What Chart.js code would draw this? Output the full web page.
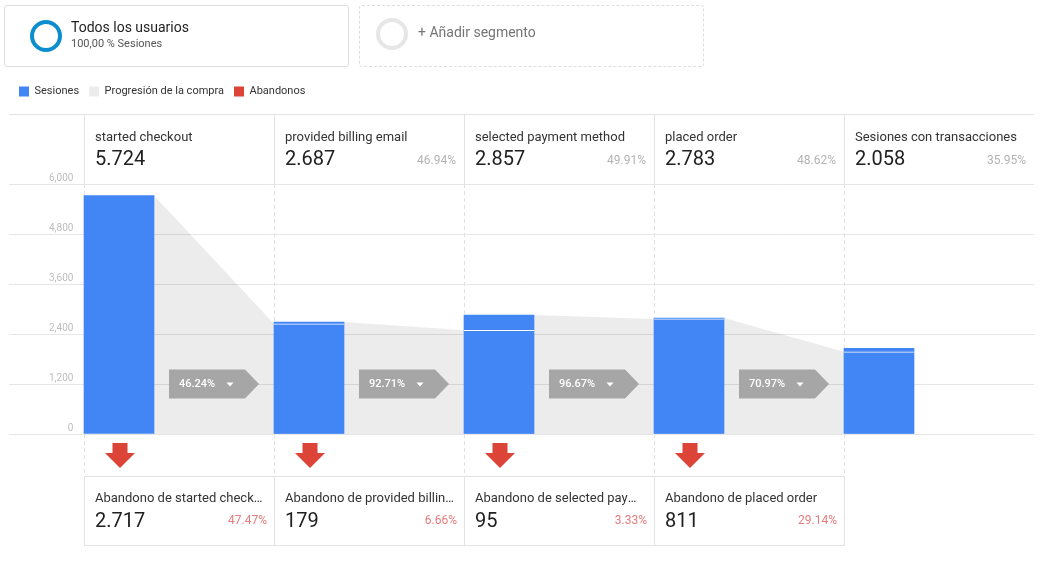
<!DOCTYPE html>
<html lang="es">
<head>
<meta charset="utf-8">
<title>Embudo de pago</title>
<script src="https://cdn.jsdelivr.net/npm/chart.js@4.4.0/dist/chart.umd.min.js"></script>
<style>
  html, body { margin: 0; padding: 0; background: #fff; }
  body { width: 1046px; height: 561px; position: relative; overflow: hidden; font-family: Roboto, "Noto Sans", Arial, sans-serif; color: #333; }
  #grafico { position: absolute; left: 0; top: 0; }
  .segmento { position: absolute; top: 5px; height: 62px; box-sizing: border-box; border: 1px solid #dedede; border-radius: 3px; }
  .segmento.uno { left: 4px; width: 345px; }
  .segmento.nuevo { left: 359px; width: 345px; border-style: dashed; }
  .anillo { position: absolute; width: 32px; height: 32px; box-sizing: border-box; border: 4px solid #0b8dce; border-radius: 50%; }
  .uno .anillo { left: 25px; top: 14px; }
  .nuevo .anillo { left: 16px; top: 12px; border-color: #e6e6e6; border-width: 4.5px; }
  .seg-titulo { position: absolute; left: 66px; top: 13px; font-size: 14px; line-height: 16px; color: #222; }
  .seg-sub { position: absolute; left: 66px; top: 31px; font-size: 11px; line-height: 13px; color: #555; }
  .nuevo .seg-titulo { left: 58px; top: 18px; color: #757575; }
  #borde-superior { position: absolute; left: 9px; top: 114px; width: 1025px; border-top: 1px solid #e3e3e3; }
  .paso { position: absolute; top: 114px; width: 190px; height: 70px; box-sizing: border-box; border-left: 1px solid #e3e3e3; }
  .nombre { position: absolute; left: 10px; top: 15px; font-size: 13px; line-height: 16px; color: #333; white-space: nowrap; }
  .cifra { position: absolute; left: 10px; top: 32px; font-size: 20px; line-height: 24px; color: #212121; }
  .pct { position: absolute; right: 8px; top: 39px; font-size: 12px; line-height: 14px; color: #b3b3b3; }
  .abandono { position: absolute; top: 476px; width: 191px; height: 70px; box-sizing: border-box; border: 1px solid #e3e3e3; }
  .abandono .nombre { top: 13px; width: 171px; overflow: hidden; text-overflow: ellipsis; }
  .abandono .cifra { top: 31px; }
  .abandono .pct { top: 36px; right: 7px; color: #e57c7c; }
</style>
</head>
<body>
<canvas id="grafico" width="1046" height="561"></canvas>

<div class="segmento uno">
  <div class="anillo"></div>
  <div class="seg-titulo">Todos los usuarios</div>
  <div class="seg-sub">100,00 % Sesiones</div>
</div>
<div class="segmento nuevo">
  <div class="anillo"></div>
  <div class="seg-titulo">+ Añadir segmento</div>
</div>
<div id="borde-superior"></div>
<div id="cabecera"></div>
<div id="abandonos"></div>

<script>
// Pasos del embudo
const pasos = ["started checkout", "provided billing email", "selected payment method", "placed order", "Sesiones con transacciones"];
const sesiones = [5724, 2687, 2857, 2783, 2058];
const pctDelTotal = [null, 46.94, 49.91, 48.62, 35.95];

// Sesiones que pasan al siguiente paso (linea blanca de cada barra)
const continuan = [2647, 2491, 2762, 1975];
const progresion = [46.24, 92.71, 96.67, 70.97];

// Abandonos por paso
const nombresAbandono = ["Abandono de started checkout", "Abandono de provided billing email", "Abandono de selected payment method", "Abandono de placed order"];
const abandonos = [2717, 179, 95, 811];
const pctAbandono = [47.47, 6.66, 3.33, 29.14];

// Eje Y
const yMin = 0;
const yMax = 6000;
const yPaso = 1200;

const AZUL = "#4285f4";
const ROJO = "#db4437";
const ANCHO_COL = 190;
const CENTRO = 35 / ANCHO_COL;
const BORDE_DER = 70 / ANCHO_COL;

const fmt = (n) => n.toLocaleString("de-DE");

// Cabecera de pasos y tarjetas de abandono
const cabecera = document.getElementById("cabecera");
pasos.forEach(function (paso, i) {
  const col = document.createElement("div");
  col.className = "paso";
  col.style.left = 84 + ANCHO_COL * i + "px";
  let html = '<div class="nombre">' + paso + '</div><div class="cifra">' + fmt(sesiones[i]) + "</div>";
  if (pctDelTotal[i] !== null) html += '<div class="pct">' + pctDelTotal[i].toFixed(2) + "%</div>";
  col.innerHTML = html;
  cabecera.appendChild(col);
});

const cajaAbandonos = document.getElementById("abandonos");
nombresAbandono.forEach(function (nombre, i) {
  const card = document.createElement("div");
  card.className = "abandono";
  card.style.left = 84 + ANCHO_COL * i + "px";
  card.innerHTML = '<div class="nombre">' + nombre + '</div><div class="cifra">' + fmt(abandonos[i]) +
    '</div><div class="pct">' + pctAbandono[i].toFixed(2) + "%</div>";
  cajaAbandonos.appendChild(card);
});

// Area gris de progresion: de la cima de cada barra a la parte que continua en la siguiente
const areaProgresion = [];
continuan.forEach(function (v, i) {
  areaProgresion.push({ x: i + BORDE_DER, y: sesiones[i] });
  areaProgresion.push({ x: i + 1, y: v });
});

// Deja hueco para la fila de cabecera entre la leyenda y el grafico
const espacioCabecera = {
  id: "espacioCabecera",
  beforeInit(chart) {
    const fitOriginal = chart.legend.fit;
    chart.legend.fit = function () {
      fitOriginal.bind(chart.legend)();
      this.height += 77;
    };
  },
};

// Etiquetas de porcentaje entre barras y flechas de abandono
const marcas = {
  id: "marcas",
  afterDatasetsDraw(chart) {
    const { ctx, chartArea } = chart;
    const x = chart.scales.x;
    ctx.save();
    progresion.forEach(function (p, i) {
      const izq = x.getPixelForValue(i + BORDE_DER);
      const der = x.getPixelForValue(i + 1);
      const cx = (izq + der) / 2;
      const cy = chartArea.bottom - 50;
      ctx.fillStyle = "#a6a6a6";
      ctx.beginPath();
      ctx.moveTo(cx - 45, cy - 14.5);
      ctx.lineTo(cx + 31, cy - 14.5);
      ctx.lineTo(cx + 45, cy);
      ctx.lineTo(cx + 31, cy + 14.5);
      ctx.lineTo(cx - 45, cy + 14.5);
      ctx.closePath();
      ctx.fill();
      ctx.fillStyle = "#fff";
      ctx.font = "500 11px Roboto";
      ctx.textAlign = "left";
      ctx.textBaseline = "middle";
      ctx.fillText(p.toFixed(2) + "%", cx - 35, cy);
      ctx.beginPath();
      ctx.moveTo(cx + 12.5, cy - 1.5);
      ctx.lineTo(cx + 19.5, cy - 1.5);
      ctx.lineTo(cx + 16, cy + 2.5);
      ctx.closePath();
      ctx.fill();
    });

    const barras = chart.getDatasetMeta(0).data;
    ctx.fillStyle = ROJO;
    abandonos.forEach(function (a, i) {
      const bx = barras[i].x + 1;
      const top = chartArea.bottom + 9;
      ctx.fillRect(bx - 7.5, top, 15, 10);
      ctx.beginPath();
      ctx.moveTo(bx - 15, top + 10);
      ctx.lineTo(bx + 15, top + 10);
      ctx.lineTo(bx, top + 25);
      ctx.closePath();
      ctx.fill();
    });
    ctx.restore();
  },
};

const ctx = document.getElementById("grafico").getContext("2d");
new Chart(ctx, {
  data: {
    datasets: [
      {
        type: "bar",
        label: "Sesiones",
        data: sesiones.map((v, i) => ({ x: i + CENTRO, y: v })),
        backgroundColor: AZUL,
        borderColor: AZUL,
        borderWidth: 0,
        barThickness: 70,
        grouped: false,
        order: 1,
      },
      {
        type: "line",
        label: "Progresión de la compra",
        data: areaProgresion,
        backgroundColor: "rgba(0, 0, 0, 0.075)",
        borderColor: "rgba(0, 0, 0, 0)",
        borderWidth: 0,
        pointRadius: 0,
        pointHoverRadius: 0,
        tension: 0,
        fill: "origin",
        order: 2,
      },
      {
        type: "line",
        label: "Abandonos",
        data: abandonos.map((v, i) => ({ x: i + CENTRO, y: v })),
        backgroundColor: ROJO,
        borderColor: ROJO,
        borderWidth: 0,
        showLine: false,
        pointRadius: 0,
        pointHoverRadius: 0,
        order: 3,
      },
      {
        type: "bar",
        label: "Continúan",
        data: continuan.map((v, i) => ({ x: i + 1 + CENTRO, y: v })),
        backgroundColor: AZUL,
        borderColor: "#ffffff",
        borderWidth: { top: 1, right: 0, bottom: 0, left: 0 },
        borderSkipped: false,
        barThickness: 70,
        grouped: false,
        order: 0,
      },
    ],
  },
  options: {
    responsive: false,
    animation: false,
    locale: "en-US",
    events: [],
    layout: { padding: { left: 9, right: 12, top: 76, bottom: 85 } },
    plugins: {
      legend: {
        position: "top",
        align: "start",
        labels: {
          boxWidth: 10,
          boxHeight: 10,
          padding: 10,
          color: "#333",
          font: { family: "Roboto", size: 11 },
          filter: (item) => item.text !== "Continúan",
        },
      },
      tooltip: { enabled: false },
    },
    scales: {
      x: {
        type: "linear",
        bounds: "data",
        offset: false,
        min: -75 / ANCHO_COL,
        max: 5,
        afterBuildTicks: (s) => {
          s.ticks = pasos.map((_, i) => ({ value: i }));
        },
        ticks: { display: false },
        grid: { offset: false, color: "#e0e0e0", tickColor: "#e0e0e0", tickLength: 42, tickBorderDash: [4, 3] },
        border: { display: false, dash: [4, 3] },
      },
      y: {
        min: yMin,
        max: yMax,
        ticks: {
          stepSize: yPaso,
          mirror: true,
          crossAlign: "far",
          padding: 40,
          labelOffset: -5.5,
          color: "#bdbdbd",
          font: { family: "Roboto", size: 10 },
        },
        grid: { color: "#e6e6e6", drawTicks: false },
        border: { display: false },
        afterFit: (s) => {
          s.width = 0;
        },
      },
    },
  },
  plugins: [espacioCabecera, marcas],
});
</script>
</body>
</html>
